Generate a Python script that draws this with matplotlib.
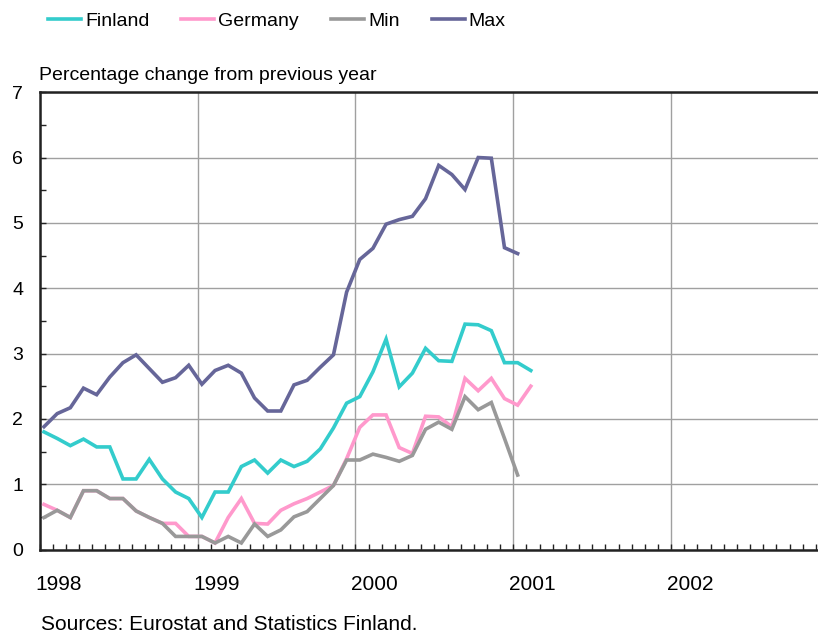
import numpy as np
import matplotlib.pyplot as plt
from matplotlib.ticker import MultipleLocator
from matplotlib.transforms import ScaledTranslation

plt.rcParams['font.family'] = ['Liberation Sans', 'DejaVu Sans']

# Monthly year-on-year changes, Jan 1998 onwards
finland = [1.80, 1.70, 1.59, 1.69, 1.57, 1.57, 1.08, 1.08, 1.38, 1.08, 0.88, 0.78,
           0.49, 0.88, 0.88, 1.27, 1.37, 1.17, 1.37, 1.27, 1.35, 1.54, 1.86, 2.24,
           2.34, 2.72, 3.22, 2.49, 2.70, 3.08, 2.89, 2.88, 3.45, 3.44, 3.35, 2.86,
           2.86, 2.74]
germany = [0.69, 0.60, 0.49, 0.90, 0.90, 0.78, 0.78, 0.59, 0.49, 0.40, 0.40, 0.20,
           0.20, 0.10, 0.49, 0.78, 0.40, 0.39, 0.60, 0.70, 0.78, 0.88, 0.98, 1.39,
           1.87, 2.06, 2.06, 1.56, 1.47, 2.04, 2.03, 1.88, 2.62, 2.43, 2.62, 2.31,
           2.21, 2.50]
min_vals = [0.49, 0.60, 0.49, 0.90, 0.90, 0.78, 0.78, 0.59, 0.49, 0.40, 0.20, 0.20,
            0.20, 0.10, 0.20, 0.10, 0.39, 0.20, 0.30, 0.50, 0.58, 0.78, 0.98, 1.37,
            1.37, 1.46, 1.41, 1.35, 1.44, 1.84, 1.95, 1.84, 2.34, 2.14, 2.25, 1.70,
            1.14]
max_vals = [1.88, 2.08, 2.17, 2.47, 2.37, 2.64, 2.86, 2.98, 2.77, 2.56, 2.63, 2.82,
            2.53, 2.74, 2.82, 2.70, 2.32, 2.12, 2.12, 2.52, 2.59, 2.79, 2.98, 3.94,
            4.44, 4.61, 4.98, 5.05, 5.10, 5.37, 5.88, 5.74, 5.51, 6.00, 5.99, 4.62,
            4.53]
years = [1998, 1999, 2000, 2001, 2002]

series = [
    ("Finland", finland, "#33CCCC"),
    ("Germany", germany, "#FF99CC"),
    ("Min", min_vals, "#999999"),
    ("Max", max_vals, "#666699"),
]


def month_axis(n):
    return 1998 + (np.arange(n) + 0.33) / 12


fig = plt.figure(figsize=(8.18, 6.36), dpi=100)
ax = fig.add_axes([0.0485, 0.136, 0.9515, 0.719])

handles = []
for name, vals, color in series:
    line, = ax.plot(month_axis(len(vals)), vals, color=color, lw=2.6,
                    solid_joinstyle='miter', label=name, zorder=3)
    handles.append(line)

ax.set_xlim(1998, 2002.93)
ax.set_ylim(0, 7)
ax.set_xticks(years)
ax.set_xticklabels([str(y) for y in years])
ax.xaxis.set_minor_locator(MultipleLocator(1 / 12))
ax.yaxis.set_major_locator(MultipleLocator(1))
ax.yaxis.set_minor_locator(MultipleLocator(0.5))

ax.grid(True, which='major', color='#a0a0a0', lw=1, zorder=1)
ax.tick_params(which='both', direction='in', length=4, width=1, colors='#222222',
               labelcolor='black', labelsize=14)
ax.tick_params(axis='y', which='major', pad=12)
ax.tick_params(axis='x', which='major', pad=18, labelsize=15)

# year labels sit just right of their gridline
shift = ScaledTranslation(19 / 100, 0, fig.dpi_scale_trans)
for lbl in ax.get_xticklabels():
    lbl.set_transform(lbl.get_transform() + shift)

for side in ['left', 'bottom', 'top']:
    ax.spines[side].set_color('#222222')
    ax.spines[side].set_linewidth(1.8)
ax.spines['right'].set_visible(False)

fig.text(39 / 818, 1 - 75 / 636, "Percentage change from previous year",
         fontsize=14, va='center', ha='left')
fig.text(41 / 818, 1 - 624 / 636, "Sources: Eurostat and Statistics Finland.",
         fontsize=15, va='center', ha='left')

fig.legend(handles=handles, loc='upper left', bbox_to_anchor=(48 / 818, 1 - 12 / 636),
           ncol=4, frameon=False, fontsize=14, handlelength=1.7,
           handletextpad=0.2, columnspacing=1.65, borderpad=0, borderaxespad=0)

fig.savefig('out.png', dpi=100)
